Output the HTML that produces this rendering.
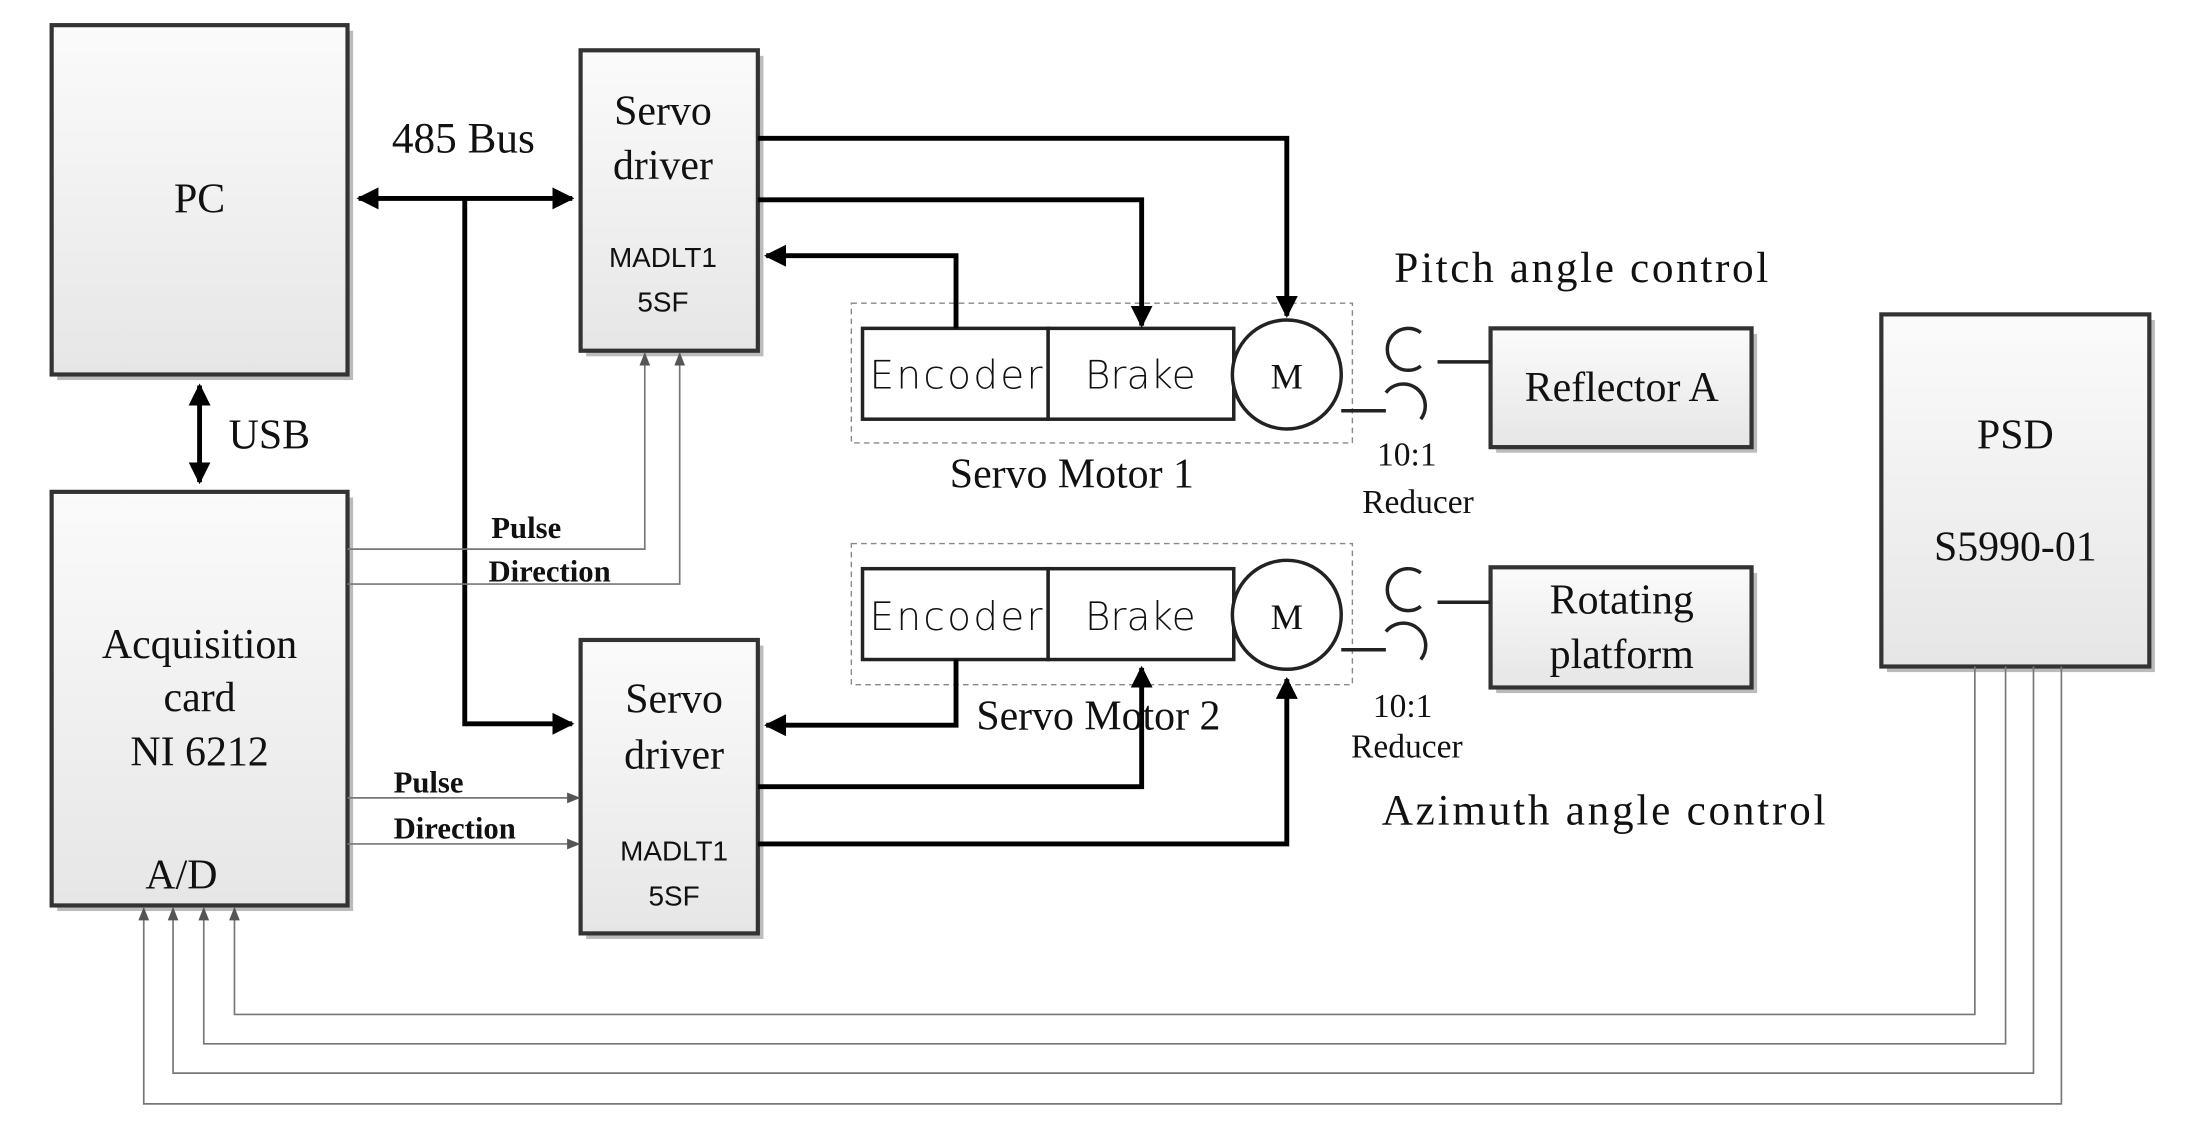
<!DOCTYPE html>
<html><head><meta charset="utf-8"><style>html,body{margin:0;padding:0;background:#fff}svg{display:block}</style></head><body>
<svg width="2187" height="1136" viewBox="0 0 1567 813" preserveAspectRatio="none" xmlns="http://www.w3.org/2000/svg" font-family="Liberation Serif, serif">
<defs>
<linearGradient id="g" x1="0" y1="0" x2="0" y2="1"><stop offset="0" stop-color="#fbfbfb"/><stop offset="1" stop-color="#e6e6e6"/></linearGradient>
<marker id="a" viewBox="0 0 10 10" refX="9" refY="5" markerWidth="4.5" markerHeight="4.5" orient="auto-start-reverse"><path d="M0,0L10,5L0,10z" fill="#000"/></marker>
<marker id="s" viewBox="0 0 10 10" refX="9" refY="5" markerWidth="8" markerHeight="8" orient="auto-start-reverse"><path d="M0,1L10,5L0,9z" fill="#555"/></marker>
</defs>
<g fill="#bbb">
<rect x="41" y="22" width="212" height="250"/><rect x="41" y="356" width="212" height="296"/>
<rect x="420" y="40" width="127" height="215"/><rect x="420" y="462" width="127" height="210"/>
<rect x="1072" y="239" width="187" height="85"/><rect x="1072" y="410" width="187" height="86"/>
<rect x="1352" y="229" width="192" height="252"/>
</g>
<g fill="url(#g)" stroke="#333" stroke-width="3">
<rect x="37" y="18" width="212" height="250"/><rect x="37" y="352" width="212" height="296"/>
<rect x="416" y="36" width="127" height="215"/><rect x="416" y="458" width="127" height="210"/>
<rect x="1068" y="235" width="187" height="85"/><rect x="1068" y="406" width="187" height="86"/>
<rect x="1348" y="225" width="192" height="252"/>
</g>
<g fill="none" stroke="#888" stroke-dasharray="4,3" stroke-width="1"><rect x="610" y="217" width="359" height="100"/><rect x="610" y="389" width="359" height="101"/></g>
<g fill="#fff" stroke="#222" stroke-width="2.5">
<rect x="618" y="235" width="133" height="65"/><rect x="751" y="235" width="133" height="65"/><circle cx="922" cy="268" r="39"/>
<rect x="618" y="407" width="133" height="65"/><rect x="751" y="407" width="133" height="65"/><circle cx="922" cy="440" r="39"/>
</g>
<g fill="none" stroke="#222" stroke-width="2.5">
<path d="M961,294H993M1030,259H1068"/><path d="M1018,238A15,15 0 1 0 1018,262"/><path d="M993,281A15,15 0 1 1 1018,300"/>
<path d="M961,465H993M1030,431H1068"/><path d="M1018,410A15,15 0 1 0 1018,434"/><path d="M993,452A15,15 0 1 1 1018,472"/>
</g>
<g fill="none" stroke="#000" stroke-width="3.5" marker-end="url(#a)">
<path d="M257,142H410" marker-start="url(#a)"/>
<path d="M333,142V518H410"/>
<path d="M143,276V345" marker-start="url(#a)"/>
<path d="M543,99H922V226"/><path d="M543,143H818V233"/><path d="M685,235V183H549"/>
<path d="M685,472V519H549"/><path d="M543,563H818V478"/><path d="M543,604H922V486"/>
</g>
<g fill="none" stroke="#777" stroke-width="1.2" marker-end="url(#s)">
<path d="M249,393H462V253"/><path d="M249,418H487V253"/>
<path d="M249,571H415"/><path d="M249,604H415"/>
<path d="M1415,477V726H168V650"/><path d="M1437,477V747H146V650"/><path d="M1457,477V768H124V650"/><path d="M1477,477V790H103V650"/>
</g>
<g font-size="30" fill="#111" text-anchor="middle">
<text x="143" y="152">PC</text>
<text x="332" y="109" font-size="31">485 Bus</text>
<text x="193" y="321">USB</text>
<text x="475" y="89">Servo</text><text x="475" y="128">driver</text>
<text x="483" y="510">Servo</text><text x="483" y="550">driver</text>
<text x="143" y="471">Acquisition</text><text x="143" y="509">card</text><text x="143" y="548">NI 6212</text>
<text x="130" y="636">A/D</text>
<text x="1133" y="202" font-size="31" textLength="268">Pitch angle control</text>
<text x="1149" y="590" font-size="31" textLength="318">Azimuth angle control</text>
<text x="768" y="349">Servo Motor 1</text><text x="787" y="522">Servo Motor 2</text>
<text x="1162" y="287">Reflector A</text>
<text x="1162" y="439">Rotating</text><text x="1162" y="478">platform</text>
<text x="1444" y="321">PSD</text><text x="1444" y="401">S5990-01</text>
<text x="685" y="278" font-family="DejaVu Sans, sans-serif" font-size="28" font-weight="300" textLength="124">Encoder</text>
<text x="817" y="278" font-family="DejaVu Sans, sans-serif" font-size="28" font-weight="300">Brake</text>
<text x="685" y="451" font-family="DejaVu Sans, sans-serif" font-size="28" font-weight="300" textLength="124">Encoder</text>
<text x="817" y="451" font-family="DejaVu Sans, sans-serif" font-size="28" font-weight="300">Brake</text>
<text x="922" y="278" font-size="26">M</text><text x="922" y="450" font-size="26">M</text>
<text x="1008" y="333" font-size="24">10:1</text><text x="1016" y="367" font-size="24">Reducer</text>
<text x="1005" y="513" font-size="24">10:1</text><text x="1008" y="542" font-size="24">Reducer</text>
</g>
<g font-family="Liberation Sans, sans-serif" font-size="20" fill="#111" text-anchor="middle">
<text x="475" y="191">MADLT1</text><text x="475" y="223">5SF</text>
<text x="483" y="616">MADLT1</text><text x="483" y="648">5SF</text>
</g>
<g font-size="22" font-weight="bold" fill="#111">
<text x="352" y="385">Pulse</text><text x="350" y="416">Direction</text>
<text x="282" y="567">Pulse</text><text x="282" y="600">Direction</text>
</g>
</svg>
</body></html>
